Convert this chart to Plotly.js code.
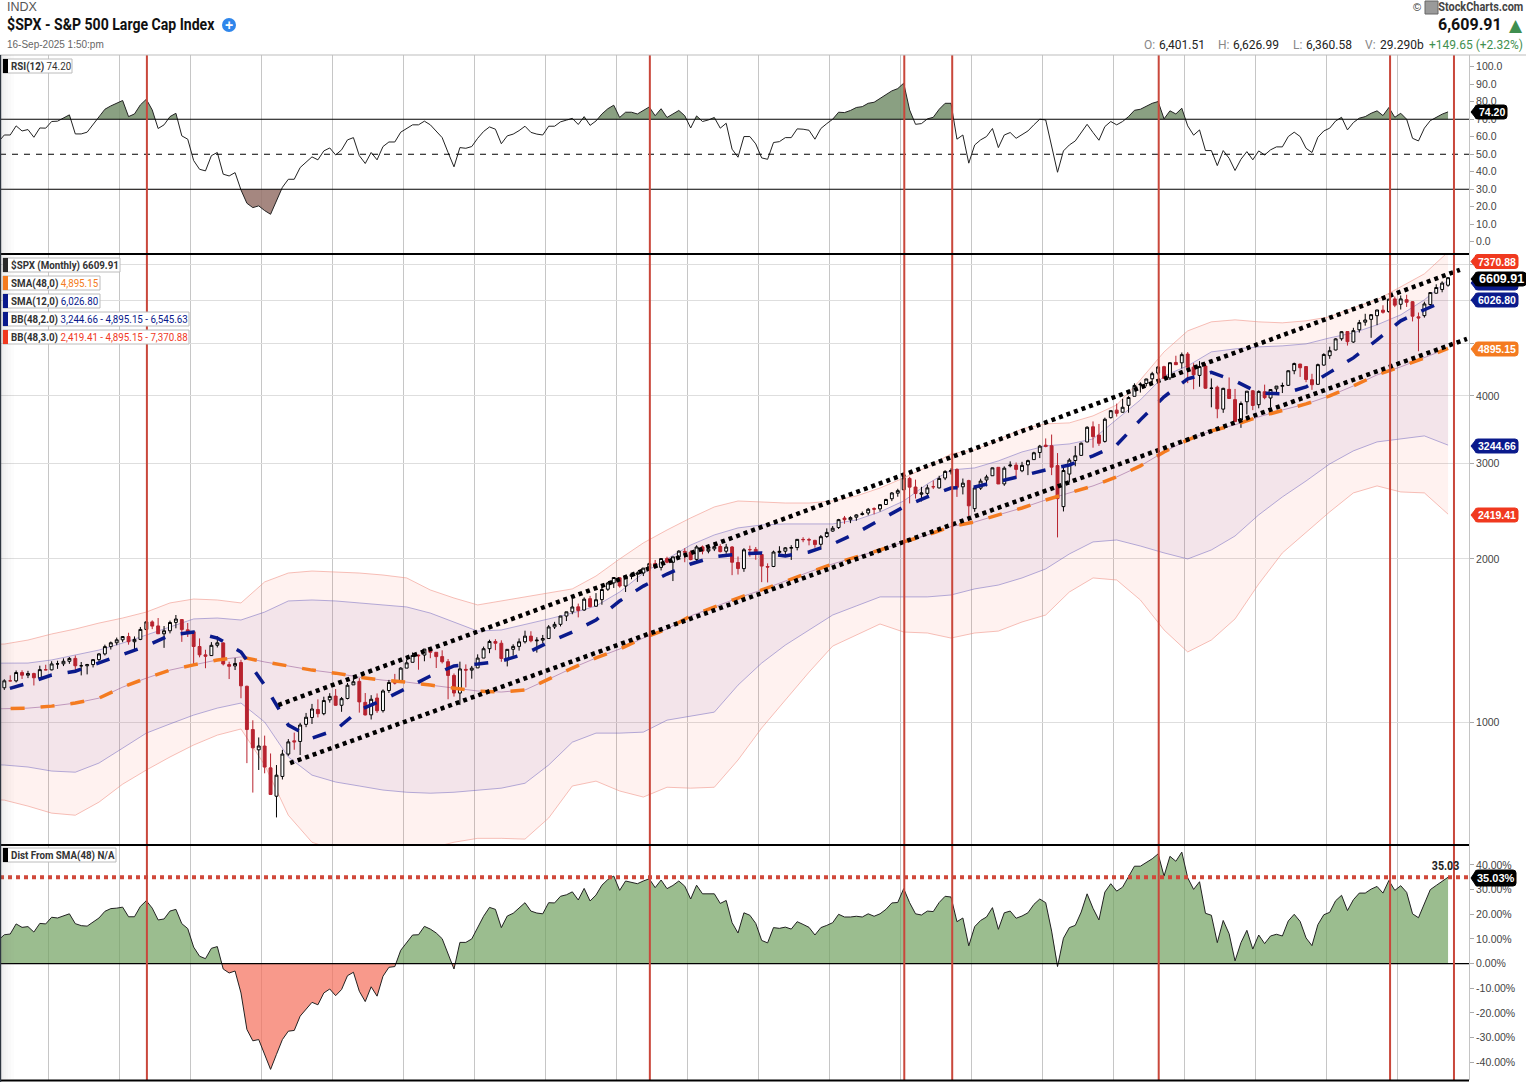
<!DOCTYPE html>
<html><head><meta charset="utf-8">
<script src="https://cdn.plot.ly/plotly-3.0.1.min.js"></script>
<style>html,body{margin:0;padding:0;background:#fff}#c{width:1526px;height:1082px}</style>
</head><body><div id="c"></div>
<script>
// Monthly candles, May 2005 - Sep 2025
const opens=[1156.85,1191.5,1191.33,1234.18,1220.33,1228.81,1207.01,1249.48,
1248.29,1280.08,1280.66,1294.87,1310.61,1270.09,1270.2,1276.66,1303.82,1335.85,1377.94,1400.63,
1418.3,1438.24,1406.8,1420.83,1482.37,1530.62,1504.66,1455.18,1473.96,1527.29,1545.79,1479.63,
1467.97,1378.6,1330.45,1326.41,1385.97,1399.62,1276.69,1269.42,1287.83,1164.17,968.67,888.61,
902.99,823.09,729.57,793.59,872.74,923.26,920.82,990.22,1019.52,1054.91,1036.18,1098.89,
1116.56,1073.89,1105.36,1171.23,1188.58,1087.3,1031.1,1107.53,1049.72,1143.49,1185.71,1186.6,
1257.62,1289.14,1328.64,1329.48,1365.21,1345.2,1320.64,1292.59,1219.12,1131.21,1251,1246.91,
1258.86,1312.45,1365.9,1408.47,1397.86,1309.87,1362.33,1379.32,1406.54,1440.9,1412.2,1416.34,
1426.19,1498.11,1514.68,1569.18,1597.55,1631.71,1609.78,1689.42,1635.95,1682.41,1758.7,1806.55,
1845.86,1782.68,1857.68,1873.96,1884.39,1923.87,1962.29,1929.8,2004.07,1971.44,2018.21,2065.78,
2058.9,1996.67,2105.23,2067.63,2087.38,2108.64,2067,2104.49,1970.09,1919.65,2080.76,2082.93,
2038.2,1936.94,1937.09,2056.62,2067.17,2093.94,2099.34,2173.15,2171.33,2164.33,2128.68,2200.17,
2251.57,2285.59,2380.13,2362.34,2388.5,2415.65,2431.39,2477.1,2474.42,2521.2,2583.21,2645.1,
2683.73,2816.45,2715.22,2633.45,2642.96,2718.7,2704.95,2821.17,2896.96,2926.29,2717.58,2790.5,
2476.96,2702.32,2798.22,2848.63,2952.33,2751.53,2971.41,2980.32,2909.01,2983.69,3050.72,3143.85,
3244.67,3235.66,2974.28,2498.08,2869.09,3038.78,3105.92,3288.26,3507.44,3385.87,3296.2,3645.87,
3764.61,3731.17,3842.51,3992.78,4191.98,4216.52,4300.73,4406.86,4528.8,4317.16,4610.62,4602.82,
4778.14,4519.57,4363.14,4540.32,4130.61,4149.78,3781,4112.38,3936.73,3609.78,3901.79,4087.14,
3853.29,4070.07,3963.34,4120.98,4166.79,4183.03,4450.48,4578.83,4530.6,4284.52,4201.27,4559.43,
4745.2,4861.11,5098.51,5257.97,5029.03,5297.15,5471.08,5537.84,5623.89,5757.73,5723.22,6040.11,
5903.26,6020.45,5968.33,5597.53,5625.14,5896.68,6187.68,6287.28,6401.51];
const highs=[1199.56,1219.59,1245.15,1245.86,1243.13,1233.34,1270.64,1275.8,
1294.9,1297.57,1310.88,1318.16,1326.7,1290.68,1280.42,1306.74,1340.28,1389.45,1407.89,1431.81,
1441.61,1461.57,1438.89,1498.02,1535.56,1540.56,1555.9,1503.89,1538.74,1576.09,1545.79,1523.57,
1471.77,1426.79,1359.68,1404.57,1440.24,1404.05,1292.17,1313.15,1303.04,1167.03,1007.51,936.63,
943.85,875.01,832.98,888.7,930.17,956.23,996.68,1039.47,1080.15,1101.36,1113.69,1130.38,
1150.45,1112.42,1180.69,1219.8,1205.13,1131.23,1120.95,1129.24,1148.9,1196.14,1227.08,1262.6,
1302.67,1344.07,1332.28,1364.56,1370.58,1345.2,1356.48,1307.38,1229.29,1292.66,1277.55,1269.37,
1333.47,1378.04,1419.15,1422.38,1415.32,1363.46,1391.74,1426.68,1474.51,1470.96,1434.27,1448,
1509.94,1530.94,1570.28,1597.35,1687.18,1654.19,1698.78,1709.67,1729.86,1775.22,1813.55,1849.44,
1850.84,1867.92,1883.97,1897.28,1924.03,1968.17,1991.39,2005.04,2019.26,2018.19,2075.76,2093.55,
2072.36,2119.59,2117.52,2125.92,2134.72,2129.87,2132.82,2112.66,2020.86,2094.32,2116.48,2104.27,
2038.2,1962.96,2072.21,2111.05,2103.48,2120.55,2177.09,2193.81,2187.87,2169.6,2214.1,2277.53,
2300.99,2371.54,2400.98,2398.16,2418.71,2446.2,2484.04,2490.87,2519.44,2582.98,2657.74,2694.97,
2872.87,2835.96,2801.9,2717.49,2742.24,2791.47,2848.03,2916.5,2940.91,2939.86,2815.15,2800.18,
2708.95,2813.49,2860.31,2949.52,2954.13,2964.15,3027.98,3013.59,3021.99,3050.1,3154.26,3247.93,
3337.77,3393.52,3136.72,2954.86,3068.67,3233.13,3279.99,3514.77,3588.11,3549.85,3645.99,3760.2,
3870.9,3950.43,3994.41,4218.78,4238.04,4302.43,4429.97,4537.36,4545.85,4608.08,4743.83,4808.93,
4818.62,4595.31,4637.3,4593.45,4307.66,4177.51,4140.15,4325.28,4119.28,3905.42,4080.11,4100.96,
4094.21,4195.44,4110.75,4170.06,4231.1,4458.48,4607.07,4584.62,4541.25,4393.57,4587.64,4793.3,
4931.09,5111.06,5264.85,5263.95,5341.88,5523.64,5669.67,5651.37,5767.37,5878.46,6044.17,6099.97,
6128.18,6147.43,5986.09,5700,5968.61,6215.08,6427.02,6508.23,6626.99];
const lows=[1146.18,1188.3,1183.55,1201.07,1205.35,1168.2,1201.07,1246.59,
1245.74,1253.61,1268.42,1280.74,1245.34,1219.29,1224.54,1261.3,1290.93,1327.1,1360.98,1385.93,
1403.97,1389.42,1363.98,1416.37,1476.7,1484.18,1454.25,1370.6,1457.64,1489.56,1406.1,1435.65,
1270.05,1316.75,1256.98,1324.35,1373.07,1272,1200.44,1247.45,1106.42,839.8,741.02,815.69,
804.3,734.52,666.79,783.32,866.1,888.86,869.32,978.51,991.97,1019.95,1029.38,1085.89,
1071.59,1044.5,1101.24,1170.69,1040.78,1028.33,1010.91,1039.7,1041.11,1131.87,1173,1186.6,
1257.62,1289.14,1249.05,1294.7,1311.8,1258.07,1282.86,1101.54,1114.22,1074.77,1158.66,1202.37,
1258.86,1312.45,1340.03,1357.38,1291.98,1266.74,1325.41,1354.65,1396.56,1403.28,1343.35,1398.11,
1426.19,1485.01,1501.48,1536.03,1581.28,1560.33,1604.57,1627.47,1633.41,1646.47,1746.2,1767.99,
1770.45,1737.92,1834.44,1814.36,1859.79,1915.98,1930.67,1904.78,1964.04,1820.66,2001.01,1972.56,
1988.12,1980.9,2039.69,2048.38,2067.93,2056.32,2044.02,1867.01,1871.91,1893.7,2019.39,1993.26,
1812.29,1810.1,1931.81,2033.8,2025.91,1991.68,2074.02,2147.58,2119.12,2097.85,2083.79,2187.44,
2245.13,2271.65,2322.25,2328.95,2352.72,2405.7,2407.7,2417.35,2446.55,2520.4,2557.45,2605.52,
2682.36,2532.69,2585.89,2553.8,2594.62,2691.99,2698.95,2796.34,2864.12,2603.54,2631.09,2346.58,
2443.96,2681.83,2722.27,2848.63,2750.52,2728.81,2952.22,2822.12,2891.85,2855.94,3050.72,3070.33,
3214.64,2855.84,2191.86,2447.49,2766.64,2965.66,3101.17,3284.53,3209.45,3233.94,3279.74,3633.4,
3662.71,3725.62,3723.34,3992.78,4056.88,4164.4,4233.13,4367.73,4305.91,4278.94,4560,4495.12,
4222.62,4114.65,4157.87,4124.28,3810.32,3636.87,3721.56,3954.53,3584.13,3491.58,3698.15,3764.49,
3794.33,3943.08,3808.86,4049.35,4048.28,4171.64,4385.05,4335.31,4238.63,4103.78,4197.74,4546.5,
4682.11,4853.52,5056.82,4953.56,5011.05,5234.32,5390.95,5119.26,5402.62,5674,5696.51,5832.3,
5773.31,5837.66,5488.73,4835.04,5578.64,5861.43,6177.97,6212.69,6360.58];
const closes=[1191.5,1191.33,1234.18,1220.33,1228.81,1207.01,1249.48,1248.29,
1280.08,1280.66,1294.87,1310.61,1270.09,1270.2,1276.66,1303.82,1335.85,1377.94,1400.63,1418.3,
1438.24,1406.82,1420.86,1482.37,1530.62,1503.35,1455.27,1473.99,1526.75,1549.38,1481.14,1468.36,
1378.55,1330.63,1322.7,1385.59,1400.38,1280,1267.38,1282.83,1166.36,968.75,896.24,903.25,
825.88,735.09,797.87,872.81,919.14,919.32,987.48,1020.62,1057.08,1036.19,1095.63,1115.1,
1073.87,1104.49,1169.43,1186.69,1089.41,1030.71,1101.6,1049.33,1141.2,1183.26,1180.55,1257.64,
1286.12,1327.22,1325.83,1363.61,1345.2,1320.64,1292.28,1218.89,1131.42,1253.3,1246.96,1257.6,
1312.41,1365.68,1408.47,1397.91,1310.33,1362.16,1379.32,1406.58,1440.67,1412.16,1416.18,1426.19,
1498.11,1514.68,1569.19,1597.57,1630.74,1606.28,1685.73,1632.97,1681.55,1756.54,1805.81,1848.36,
1782.59,1859.45,1872.34,1883.95,1923.57,1960.23,1930.67,2003.37,1972.29,2018.05,2067.56,2058.9,
1994.99,2104.5,2067.89,2085.51,2107.39,2063.11,2103.84,1972.18,1920.03,2079.36,2080.41,2043.94,
1940.24,1932.23,2059.74,2065.3,2096.95,2098.86,2173.6,2170.95,2168.27,2126.15,2198.81,2238.83,
2278.87,2363.64,2362.72,2384.2,2411.8,2423.41,2470.3,2471.65,2519.36,2575.26,2647.58,2673.61,
2823.81,2713.83,2640.87,2648.05,2705.27,2718.37,2816.29,2901.52,2913.98,2711.74,2760.17,2506.85,
2704.1,2784.49,2834.4,2945.83,2750.52,2941.76,2980.38,2926.46,2976.74,3037.56,3140.98,3230.78,
3225.52,2954.22,2584.59,2912.43,3044.31,3100.29,3271.12,3500.31,3363,3269.96,3621.63,3756.07,
3714.24,3811.15,3972.89,4181.17,4204.11,4297.5,4395.26,4522.68,4307.54,4605.38,4567,4766.18,
4515.55,4373.94,4530.41,4131.93,4132.15,3785.38,4130.29,3955,3585.62,3871.98,4080.11,3839.5,
4076.6,3970.15,4109.31,4169.48,4179.83,4450.38,4588.96,4507.66,4288.05,4193.8,4567.8,4769.83,
4845.65,5096.27,5254.35,5035.69,5277.51,5460.48,5522.3,5648.4,5762.48,5705.45,6032.38,5881.63,
6040.53,5954.5,5611.85,5569.06,5911.69,6204.95,6339.39,6460.26,6609.91];

// Indicator readings every fourth month (first node lies just left of the visible edge)
const bandIdx=[-4,0,4,8,12,16,20,24,28,32,36,40,44,48,52,56,60,64,68,72,76,80,84,88,92,96,100,104,108,112,116,120,124,128,132,136,140,144,148,152,156,160,164,168,172,176,180,184,188,192,196,200,204,208,212,216,220,224,228,232,236,240,244];
const bb3Upper=[1390,1393,1417,1454,1485,1523,1556,1596,1659,1687,1680,1659,1814,1884,1900,1892,1884,1868,1845,1753,1694,1645,1673,1702,1731,1761,1860,2000,2141,2262,2381,2495,2559,2548,2537,2537,2559,2614,2704,2822,2958,3126,3179,3317,3476,3551,3566,3674,3849,4281,4822,5273,5479,5526,5479,5456,5503,5597,5815,6016,6358,6719,7370.88];
const bb3Lower=[722,717.6,699.6,679,673,711.5,768,815.5,862,907,946,971,833,673,600,580,568,563,573,585,600,610,610,608,665,762,778,746,727,758,755,758,851,975,1098,1236,1381,1447,1517,1466,1460,1429,1460,1472,1530,1576,1738,1845,1829,1680,1479,1347,1417,1550,1798,2052,2243,2443,2648,2728,2659,2648,2419.41];
const bb2Upper=[1284,1285,1285,1302,1330,1358,1399,1447,1498,1550,1556,1543,1596,1673,1680,1673,1659,1645,1631,1589,1530,1472,1479,1513,1550,1589,1638,1738,1884,2000,2122,2215,2282,2311,2321,2321,2321,2361,2443,2559,2751,2920,2945,3034,3152,3234,3261,3331,3612,3932,4355,4544,4822,4884,4926,4947,4989,5118,5228,5410,5645,6016,6545.63];
const bb2Lower=[836,833,826,812,808,840,895,954,992,1030,1061,1084,1000,862,798,775,762,749,742,739,742,749,755,771,833,918,954,954,958,1008,1026,1043,1170,1285,1387,1479,1576,1638,1702,1702,1702,1716,1761,1790,1845,1917,2043,2150,2168,2113,2052,2000,2078,2205,2412,2603,2786,2995,3166,3289,3331,3374,3244.66];
const sma48=[1056,1057,1061,1070,1084,1107,1160,1205,1247,1275,1302,1319,1291,1269,1247,1231,1210,1195,1185,1170,1155,1141,1136,1146,1200,1258,1313,1364,1429,1485,1570,1631,1694,1753,1821,1892,1958,2018,2078,2150,2215,2295,2340,2412,2484,2570,2648,2728,2834,2970,3152,3317,3447,3537,3658,3767,3865,4000,4172,4373,4525,4701,4895.15];
const sma12=[1122,1146,1180,1221,1241,1285,1330,1381,1447,1466,1429,1347,1170,987,934,967,1052,1098,1155,1216,1269,1280,1296,1336,1404,1466,1543,1673,1782,1876,1958,2018,2043,2052,2026,2060,2131,2233,2361,2495,2603,2704,2716,2775,2846,2920,2982,3099,3247,3612,3985,4300,4420,4263,4052,4034,4154,4420,4701,5075,5503,5768,6026.80];

// Both start one month before the first candle
const rsi=[57.0,61.0,61.0,66.2,63.3,64.1,59.7,65.0,64.9,68.7,68.9,70.6,72.5,
61.6,61.6,62.6,66.8,71.0,75.7,77.6,79.1,80.7,71.5,73.0,78.2,
81.4,75.3,64.7,66.8,71.5,73.4,60.5,58.6,46.4,41.4,40.5,49.2,
51.0,38.6,37.6,39.5,29.6,22.0,19.5,20.5,17.8,15.7,23.3,31.1,
35.7,35.7,42.4,45.4,48.5,46.8,51.9,53.6,49.6,52.5,58.2,59.5,
49.2,44.7,51.0,46.8,54.4,57.0,57.0,62.6,64.5,66.8,66.8,68.9,
66.8,63.3,59.5,51.0,42.8,53.8,53.4,54.4,59.1,63.0,65.6,64.3,
56.0,60.5,61.5,63.5,66.0,62.5,61.5,61.0,66.0,66.0,68.5,69.5,
70.5,67.0,71.5,66.5,69.0,73.0,76.0,78.0,71.0,74.0,74.0,73.0,
75.0,77.0,72.0,76.0,71.0,73.0,75.0,72.0,65.0,71.9,68.7,69.6,
71.0,64.9,67.7,52.9,48.3,60.1,60.1,55.9,47.9,47.1,56.7,57.2,
59.5,59.5,64.5,64.3,63.7,58.6,64.7,67.5,70.0,74.0,73.8,75.0,
76.7,77.2,79.1,79.7,82.0,84.3,86.2,87.5,90.6,75.3,67.1,67.5,
70.2,71.1,75.7,79.1,79.1,58.6,61.0,44.9,55.3,58.2,60.1,64.7,
53.8,61.0,62.4,59.1,61.4,63.3,66.8,70.0,69.6,54.0,39.7,51.9,
55.3,57.6,62.0,67.1,62.4,58.0,65.8,68.7,66.8,68.7,71.5,75.1,
75.7,77.6,79.1,80.1,70.2,74.8,73.0,76.3,66.2,60.9,63.9,52.1,
52.1,43.5,52.1,47.7,40.7,47.1,51.5,46.8,51.9,49.6,52.5,54.2,
54.2,60.1,62.6,60.1,53.4,51.0,59.7,63.3,64.9,69.0,71.1,63.9,
68.1,70.6,71.5,73.4,74.8,72.1,76.7,71.1,73.4,70.0,59.1,57.6,
64.9,69.2,71.1,72.9,74.20];
const distSma=[9.5,11.7,12.0,16.1,14.7,15.0,12.8,16.3,16.1,18.8,18.5,19.3,20.2,
16.2,15.4,15.2,16.9,18.5,21.2,22.3,22.5,22.9,19.0,19.0,23.2,
25.5,22.5,17.7,18.1,21.3,22.0,16.2,14.2,6.7,3.0,2.0,6.2,
6.9,-2.2,-3.8,-3.0,-11.9,-26.7,-31.3,-30.8,-36.8,-42.9,-36.8,-30.8,
-27.4,-27.1,-21.3,-18.6,-15.7,-16.7,-11.9,-10.3,-13.0,-10.5,-4.9,-3.5,
-11.2,-15.4,-9.4,-13.2,-5.1,-1.5,-1.2,5.4,8.4,11.6,11.7,15.1,
14.0,12.4,10.1,3.6,-2.2,8.6,8.6,10.0,14.8,19.2,22.8,22.0,
14.6,19.3,20.4,22.4,24.7,21.3,20.5,20.2,24.7,24.6,27.3,27.9,
29.1,25.8,30.5,25.4,27.8,31.8,34.1,35.5,29.7,33.5,33.1,32.4,
33.5,34.4,30.8,33.9,30.4,31.7,33.5,31.4,26.2,31.8,28.3,28.3,
28.3,24.4,25.6,16.6,12.4,20.6,19.6,16.3,9.4,8.4,14.6,14.3,
14.8,14.0,17.0,15.9,14.7,11.6,14.6,15.5,16.6,20.0,18.9,18.9,
19.2,18.9,20.2,19.2,20.2,22.0,24.6,24.8,30.4,24.7,20.2,19.7,
21.3,21.1,24.8,27.3,27.0,17.0,18.5,7.2,15.0,17.5,18.9,22.7,
13.9,20.6,21.3,18.4,19.3,20.6,24.0,26.2,24.7,13.2,-1.2,10.3,
14.6,15.5,20.9,28.3,22.4,17.7,29.0,32.4,29.4,31.0,35.1,39.5,
39.5,41.0,42.5,44.5,35.5,43.5,41.5,45.2,34.8,30.1,33.2,20.4,
19.6,8.5,17.5,12.1,1.1,8.5,13.5,5.9,11.6,8.1,11.2,11.9,
11.2,17.3,20.0,17.1,10.4,7.3,15.8,19.8,20.8,25.5,27.7,21.5,
25.9,28.6,28.6,30.2,31.3,28.6,33.7,29.7,31.6,28.9,20.2,18.6,
24.6,30.0,31.7,33.3,35.03];

const channelUpperIdx=[46.3,246],channelUpper=[1075,6834];
const channelLowerIdx=[48.3,247.2],channelLower=[840,5096];
const signalIdx=[24.1,109.1,152.1,160.2,195.1,234.2,245];
const yearGridIdx=[7.5,19.5,31.5,43.5,55.5,67.5,79.5,91.5,103.5,115.5,127.5,139.5,151.5,163.5,175.5,187.5,199.5,211.5,223.5,235.5];
const priceTicks=[1000,2000,3000,4000,5000,6000,7000];
const priceTickText=['1000','2000','3000','4000','','',''];
const rsiTicks=[0,10,20,30,40,50,60,70,80,90,100];
const distTicks=[-40,-30,-20,-10,0,10,20,30,40];
const xs=closes.map((_,i)=>i);
const indIdx=rsi.map((_,i)=>i-1);

const W=1526,H=1082;
const fx=p=>p/W, fy=p=>1-p/H;
const PLOT_R=1469;
const FONT='"Liberation Sans",Arial,sans-serif';
const NARROW='Roboto,sans-serif';

function clipAt(x,y,level,above){
  const X=[],Y=[];
  for(let i=0;i<x.length;i++){
    if(i>0&&(y[i-1]-level)*(y[i]-level)<0){
      X.push(x[i-1]+(level-y[i-1])/(y[i]-y[i-1])*(x[i]-x[i-1]));Y.push(level);
    }
    X.push(x[i]);Y.push(above?Math.max(y[i],level):Math.min(y[i],level));
  }
  return {X,Y};
}
const none={color:'rgba(0,0,0,0)',width:0};
const traces=[];
traces.push({x:bandIdx,y:bb3Lower,yaxis:'y2',type:'scatter',mode:'lines',line:{color:'rgba(238,140,128,0.55)',width:1}});
traces.push({x:bandIdx,y:bb3Upper,yaxis:'y2',type:'scatter',mode:'lines',line:{color:'rgba(238,140,128,0.55)',width:1},fill:'tonexty',fillcolor:'rgba(250,90,60,0.08)'});
traces.push({x:bandIdx,y:bb2Lower,yaxis:'y2',type:'scatter',mode:'lines',line:{color:'rgba(110,100,190,0.5)',width:1}});
traces.push({x:bandIdx,y:bb2Upper,yaxis:'y2',type:'scatter',mode:'lines',line:{color:'rgba(110,100,190,0.5)',width:1},fill:'tonexty',fillcolor:'rgba(140,110,190,0.10)'});
traces.push({x:bandIdx,y:sma48,yaxis:'y2',type:'scatter',mode:'lines',line:{color:'rgba(150,90,150,0.55)',width:1}});
traces.push({x:xs,open:opens,high:highs,low:lows,close:closes,yaxis:'y4',type:'candlestick',
  increasing:{line:{color:'#000',width:1},fillcolor:'#fff'},
  decreasing:{line:{color:'#b8232f',width:1},fillcolor:'#b8232f'}});
traces.push({x:bandIdx,y:sma48,yaxis:'y4',type:'scatter',mode:'lines',line:{color:'#f47b20',width:3.5,dash:'14px,16px'}});
traces.push({x:bandIdx,y:sma12,yaxis:'y4',type:'scatter',mode:'lines',line:{color:'#0a1a8c',width:3.5,dash:'14px,16px'}});
traces.push({x:channelUpperIdx,y:channelUpper,yaxis:'y4',type:'scatter',mode:'lines',line:{color:'#000',width:4.5,dash:'4px,4px'}});
traces.push({x:channelLowerIdx,y:channelLower,yaxis:'y4',type:'scatter',mode:'lines',line:{color:'#000',width:4.5,dash:'4px,4px'}});
function rsiFill(level,above,color){
  const c=clipAt(indIdx,rsi,level,above);
  traces.push({x:c.X,y:c.X.map(()=>level),yaxis:'y',type:'scatter',mode:'lines',line:none});
  traces.push({x:c.X,y:c.Y,yaxis:'y',type:'scatter',mode:'lines',line:none,fill:'tonexty',fillcolor:color});
}
rsiFill(70,true,'rgba(117,143,108,0.85)');
rsiFill(30,false,'rgba(149,114,106,0.85)');
traces.push({x:indIdx,y:rsi,yaxis:'y',type:'scatter',mode:'lines',line:{color:'#222',width:1}});
const dp=clipAt(indIdx,distSma,0,true), dn=clipAt(indIdx,distSma,0,false);
traces.push({x:dp.X,y:dp.Y,yaxis:'y3',type:'scatter',mode:'lines',line:none,fill:'tozeroy',fillcolor:'rgba(112,161,95,0.7)'});
traces.push({x:dn.X,y:dn.Y,yaxis:'y3',type:'scatter',mode:'lines',line:none,fill:'tozeroy',fillcolor:'rgba(245,114,94,0.72)'});
traces.push({x:indIdx,y:distSma,yaxis:'y3',type:'scatter',mode:'lines',line:{color:'#222',width:1}});

const priceRange=[Math.log10(593),Math.log10(7310)];
const tickFont={family:FONT,size:10.5,color:'#444'};
const yBase={side:'right',anchor:'x',ticks:'outside',ticklen:4,tickcolor:'#aaa',tickfont:tickFont,showline:false,zeroline:false,fixedrange:true};

const shapes=[],ann=[],narrowed=[];
function hline(yref,v,color,width,dash){
  shapes.push({type:'line',xref:'x domain',yref,x0:0,x1:1,y0:v,y1:v,line:{color,width,dash:dash||'solid'},layer:'above'});
}
hline('y',70,'#000',1.2);hline('y',30,'#000',1.2);hline('y',50,'#000',1.2,'6px,6px');
hline('y3',0,'#000',1.2);
hline('y3',35.03,'#d0483a',4,'4px,4px');
signalIdx.forEach(v=>shapes.push({type:'line',xref:'x',yref:'paper',x0:v,x1:v,y0:fy(1080),y1:fy(55),line:{color:'#c9473b',width:2},layer:'above'}));
function sep(y,color,w,x1){shapes.push({type:'line',xref:'paper',yref:'paper',x0:0,x1:fx(x1||PLOT_R),y0:fy(y),y1:fy(y),line:{color,width:w},layer:'above'});}
sep(55,'#bdbdbd',1,W);sep(254,'#000',2);sep(845,'#000',2);sep(1080.5,'#000',2);
shapes.push({type:'line',xref:'paper',yref:'paper',x0:fx(1469.5),x1:fx(1469.5),y0:fy(1080),y1:fy(55),line:{color:'#c4c4c4',width:1},layer:'above'});
[14,11,8,6,4,2.5].forEach(w=>shapes.push({type:'rect',xref:'paper',yref:'paper',x0:fx(1),x1:fx(w),y0:fy(1080),y1:fy(55),fillcolor:'rgba(120,130,140,0.025)',line:{width:0},layer:'above'}));
shapes.push({type:'rect',xref:'paper',yref:'paper',x0:0,x1:fx(1.2),y0:fy(1082),y1:fy(55),fillcolor:'#2e3640',line:{width:0},layer:'above'});

function text(x,y,t,o,narrow){
  ann.push(Object.assign({xref:'paper',yref:'paper',x:fx(x),y:fy(y),text:t,showarrow:false,xanchor:'left',yanchor:'middle',
    font:{family:FONT,size:12,color:'#222'},borderpad:0},o||{}));
  if(narrow) narrowed.push({i:ann.length-1,scale:narrow,right:!!(o&&o.xanchor==='right')});
}
function badge(cy,x1,color,label,o){
  const h=(o&&o.h)||14,t=1471,x0=1475,r=3,a=cy-h/2,b=cy+h/2;
  const P=(x,y)=>fx(x)+','+fy(y);
  const path='M'+P(t,cy)+' L'+P(x0,a+2)+' Q'+P(x0,a)+' '+P(x0+r,a)+' L'+P(x1-r,a)+' Q'+P(x1,a)+' '+P(x1,a+r)+
    ' L'+P(x1,b-r)+' Q'+P(x1,b)+' '+P(x1-r,b)+' L'+P(x0+r,b)+' Q'+P(x0,b)+' '+P(x0,b-2)+' Z';
  shapes.push({type:'path',xref:'paper',yref:'paper',path,fillcolor:color,line:{color,width:1},layer:'above'});
  if(label) text((x0+x1)/2+0.5,cy,label,{xanchor:'center',font:{family:FONT,size:(o&&o.size)||10.5,color:'#fff'}});
}
badge(112,1507,'#000','<b>74.20</b>');
badge(261.5,1518,'#f0391f','<b>7370.88</b>');
badge(283,1518,'#0a1a8c','');
badge(279,1526,'#000','<b>6609.91</b>',{size:12.5});
badge(300,1518,'#0a1a8c','<b>6026.80</b>');
badge(349,1518,'#f47b20','<b>4895.15</b>');
badge(446,1518,'#0a1a8c','<b>3244.66</b>');
badge(515,1518,'#f0391f','<b>2419.41</b>');
badge(878,1516,'#000','<b>35.03%</b>',{h:16,size:11});

function legend(y,x1,swatch,label){
  shapes.push({type:'rect',xref:'paper',yref:'paper',x0:fx(3),x1:fx(x1),y0:fy(y-7),y1:fy(y+7),fillcolor:'#fff',line:{color:'#bcbcbc',width:1},layer:'above'});
  shapes.push({type:'rect',xref:'paper',yref:'paper',x0:fx(3),x1:fx(8),y0:fy(y-7),y1:fy(y+7),fillcolor:swatch,line:{width:0},layer:'above'});
  text(10,y,label,{font:{family:NARROW,size:11.5,color:'#333'}},0.85);
}
const sp=(c,t)=>'<span style="color:'+c+'">'+t+'</span>';
legend(66,72,'#000','<b>RSI(12)</b> 74.20');
legend(265,120,'#2a2a2a','<b>$SPX (Monthly)</b> <b>6609.91</b>');
legend(283,100,'#f47b20','<b>SMA(48,0)</b> '+sp('#f47b20','4,895.15'));
legend(301,100,'#0a1a8c','<b>SMA(12,0)</b> '+sp('#0a1a8c','6,026.80'));
legend(319,189,'#0a1a8c','<b>BB(48,2.0)</b> '+sp('#0a1a8c','3,244.66 - 4,895.15 - 6,545.63'));
legend(337,189,'#f0391f','<b>BB(48,3.0)</b> '+sp('#f0391f','2,419.41 - 4,895.15 - 7,370.88'));
legend(855,116,'#000','<b>Dist From SMA(48) N/A</b>');

text(6,6.5,'INDX',{font:{family:FONT,size:12.5,color:'#555'}});
text(6,25,'<b>$SPX - S&amp;P 500 Large Cap Index</b>',{font:{family:NARROW,size:16,color:'#111'}},0.88);
text(6,44.5,'16-Sep-2025 1:50:pm',{font:{family:FONT,size:10,color:'#666'}});
shapes.push({type:'circle',xref:'paper',yref:'paper',x0:fx(222),x1:fx(236),y0:fy(18),y1:fy(32),fillcolor:'#2f86eb',line:{width:0},layer:'above'});
text(229,25,'<b>+</b>',{xanchor:'center',font:{family:FONT,size:14,color:'#fff'}});
text(1412,7,'©',{font:{family:FONT,size:11,color:'#333'}});
shapes.push({type:'rect',xref:'paper',yref:'paper',x0:fx(1425),x1:fx(1438),y0:fy(1),y1:fy(14),fillcolor:'#9a9a9a',line:{color:'#666',width:1},layer:'above'});
text(1524,7,'<b>StockCharts.com</b>',{xanchor:'right',font:{family:NARROW,size:13,color:'#444'}},0.84);
text(1503,25,'<b>6,609.91</b>',{xanchor:'right',font:{family:'Roboto,sans-serif',size:16,color:'#111'}});
text(1516,24.5,'▲',{xanchor:'center',font:{family:'"DejaVu Sans",sans-serif',size:17,color:'#3f8f4f'}});
const statFont=(c)=>({family:'Roboto,sans-serif',size:12,color:c});
[[1143,'O:'],[1217,'H:'],[1292,'L:'],[1364,'V:']].forEach(a=>text(a[0],45,a[1],{font:statFont('#888')}));
[[1158,'6,401.51'],[1232,'6,626.99'],[1305,'6,360.58'],[1379,'29.290b']].forEach(a=>text(a[0],45,a[1],{font:statFont('#222')}));
text(1524,45,'+149.65 (+2.32%)',{xanchor:'right',font:statFont('#3f8f4f')});
text(1460,865,'<b>35.03</b>',{xanchor:'right',font:{family:NARROW,size:12.5,color:'#222'}},0.85);

const layout={
  width:W,height:H,margin:{l:0,r:0,t:0,b:0},paper_bgcolor:'#fff',plot_bgcolor:'#fff',showlegend:false,
  hovermode:false,dragmode:false,boxgap:0.3,
  xaxis:{domain:[0,PLOT_R/W],range:[-0.727,247.54],anchor:'y3',tickmode:'array',tickvals:yearGridIdx,showticklabels:false,ticks:'',
    showgrid:true,gridcolor:'#c6c6c6',gridwidth:1,zeroline:false,showline:false,rangeslider:{visible:false},fixedrange:true},
  yaxis:Object.assign({},yBase,{domain:[fy(254),fy(55)],range:[-7,106.7],tickmode:'array',tickvals:rsiTicks,ticktext:rsiTicks.map(v=>v.toFixed(1)),showgrid:false}),
  yaxis2:Object.assign({},yBase,{domain:[fy(845),fy(254)],type:'log',range:priceRange,tickmode:'array',tickvals:priceTicks,ticktext:priceTickText,showgrid:true,gridcolor:'#dedede',gridwidth:1}),
  yaxis3:Object.assign({},yBase,{domain:[fy(1080),fy(845)],range:[-47.2,48.1],tickmode:'array',tickvals:distTicks,ticktext:distTicks.map(v=>v.toFixed(2)+'%'),showgrid:false}),
  yaxis4:{overlaying:'y2',side:'right',anchor:'x',type:'log',range:priceRange,domain:[fy(845),fy(254)],showgrid:false,showticklabels:false,ticks:'',zeroline:false,showline:false,fixedrange:true},
  shapes,annotations:ann
};
Plotly.newPlot('c',traces,layout,{displayModeBar:false,staticPlot:true}).then(()=>{
  // the reference's labels use a condensed face: squeeze the real text horizontally
  narrowed.forEach(n=>{
    const t=document.querySelector('.annotation[data-index="'+n.i+'"] text.annotation-text');
    if(!t) return;
    const b=t.getBBox(), o=n.right?b.x+b.width:b.x;
    t.setAttribute('transform','translate('+o+' 0) scale('+n.scale+' 1) translate('+(-o)+' 0)');
  });
});
</script></body></html>
